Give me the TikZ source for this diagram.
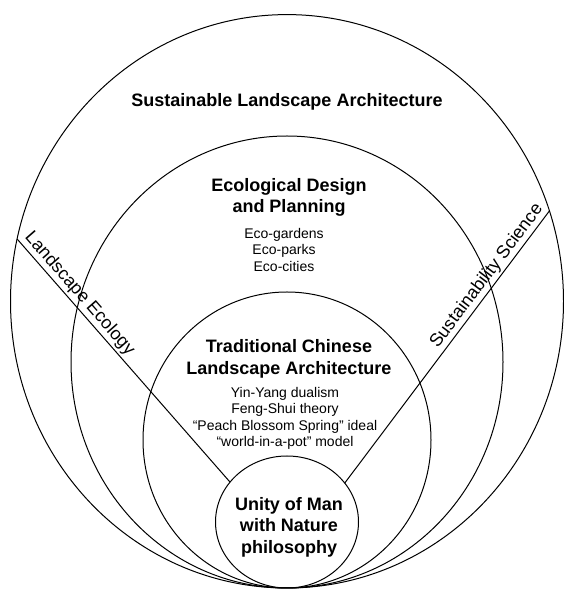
\documentclass[tikz,border=0pt]{standalone}
\usepackage{fontspec}
\setmainfont{Liberation Sans}
\usetikzlibrary{shapes.geometric}

\begin{document}
\begin{tikzpicture}[
  x=1pt, y=1pt,
  ring/.style={
    draw,
    ellipse,
    line width=1pt,
    inner sep=0pt,
    outer sep=0pt
  },
  heading/.style={
    font=\fontsize{18}{21.5}\selectfont\bfseries,
    align=center
  },
  items/.style={
    font=\fontsize{14}{16.5}\selectfont,
    align=center
  },
  theme/.style={
    font=\fontsize{18}{21}\selectfont,
    sloped,
    above,
    inner sep=2pt
  },
]
\useasboundingbox (0,0) rectangle (564,589);
% nested rings, all touching at the bottom
\node[ring, minimum width=553, minimum height=573.4] (sla) at (287,287.7) {};
\node[ring, minimum width=432, minimum height=452] (edp) at (287,227) {};
\node[ring, minimum width=288, minimum height=296] (tcla) at (287,149) {};
\node[ring, minimum width=143, minimum height=132] (unity) at (287,67) {};
% texts
\node[heading] (slaname) at (287,487) {Sustainable Landscape Architecture};
\node[heading] (edpname) at (289,391.5) {Ecological Design\\and Planning};
\node[items] (edpitems) at (284,339) {Eco-gardens\\Eco-parks\\Eco-cities};
\node[heading] (tclaname) at (289,230) {Traditional Chinese\\Landscape Architecture};
\node[items] (tclaitems) at (285,170.5) {Yin-Yang dualism\\Feng-Shui theory\\“Peach Blossom Spring” ideal\\“world-in-a-pot” model};
\node[heading] (unityname) at (289,62) {Unity of Man\\with Nature\\philosophy};
% the two supporting sciences
\draw[line width=1pt] (sla.167.9) -- (unity.145.4)
  node[theme, pos=0.255] {Landscape Ecology};
\draw[line width=1pt] (unity.34.1) -- (sla.19.6)
  node[theme, pos=0.737] {Sustainability Science};
\end{tikzpicture}
\end{document}
